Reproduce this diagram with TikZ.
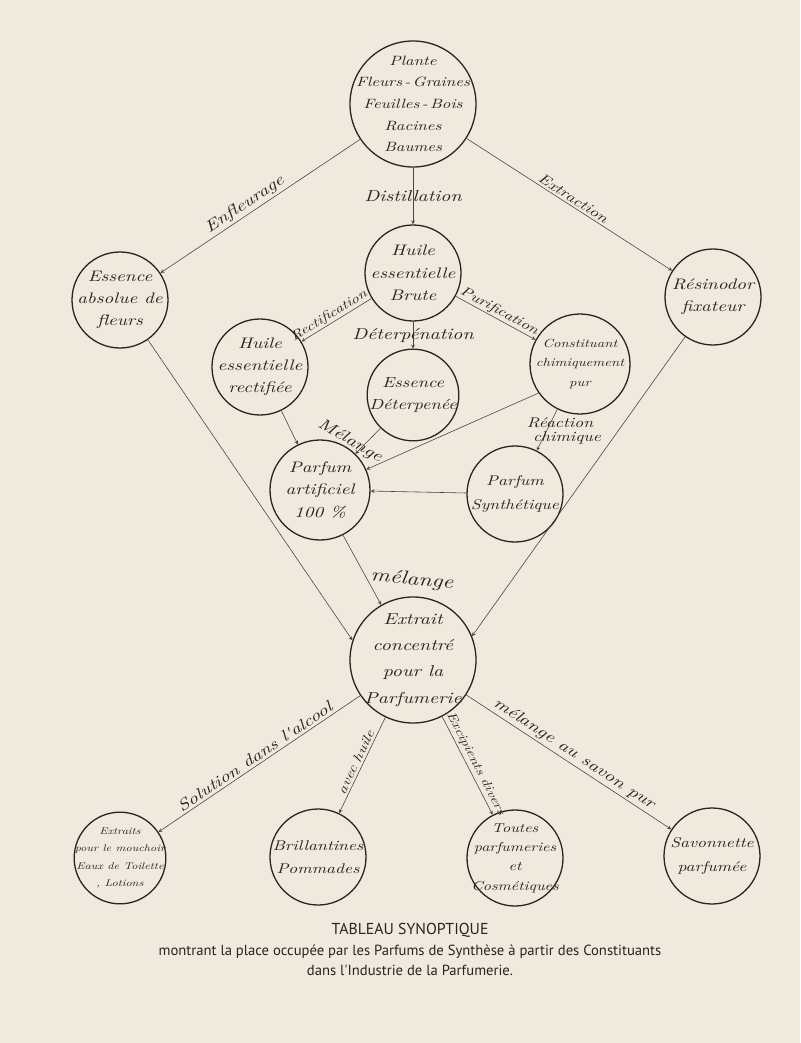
\documentclass[tikz,border=0pt]{standalone}
\usepackage{fontspec}
\newfontfamily\legende{PT Sans}
\newfontfamily\manuscrit{lmroman10-italic}[Extension=.otf, FakeStretch=1.25]
\usetikzlibrary{arrows,positioning}
\definecolor{papier}{RGB}{239,234,221}
\definecolor{encre}{RGB}{40,36,32}

\tikzset{
	etat/.style={circle, draw=encre, line width=1.1pt, inner sep=0pt},
	grand/.style={etat, minimum size=3.78cm},
	moyen/.style={etat, minimum size=2.88cm},
	petit/.style={etat, minimum size=2.75cm},
	texte/.style={align=center, text=encre, font=\manuscrit\fontsize{13}{19}\selectfont},
	fleche/.style={->, >=stealth, draw=encre!85, line width=0.5pt},
	etiq/.style={text=encre, font=\manuscrit\fontsize{13.5}{16}\selectfont, inner sep=2pt},
	menu/.style={font=\manuscrit\fontsize{11}{13}\selectfont}
}

\begin{document}
\begin{tikzpicture}[x=0.03cm, y=-0.03cm]
							\fill[papier] (0,0) rectangle (800,1043);

							% les etats
							\node[grand] (plante) at (413,104) {};
							\node[texte, font=\manuscrit\fontsize{11.5}{18.5}\selectfont] at (plante) {Plante\\Fleurs\,-\,Graines\\Feuilles\,-\,Bois\\Racines\\Baumes};
							\node[moyen] (absolue) at (120,300) {};
							\node[texte] at (absolue) {Essence\\absolue de\\fleurs};
							\node[moyen] (brute) at (413,273) {};
							\node[texte] at (brute) {Huile\\essentielle\\Brute};
							\node[moyen] (resinodor) at (713,297) {};
							\node[texte] at (resinodor) {Résinodor\\fixateur};
							\node[moyen] (rectifiee) at (260,367) {};
							\node[texte] at (rectifiee) {Huile\\essentielle\\rectifiée};
							\node[petit] (deterpenee) at (413,395) {};
							\node[texte, font=\manuscrit\fontsize{12.5}{19}\selectfont] at (deterpenee) {Essence\\Déterpenée};
							\node[etat, minimum size=3cm] (constituant) at (580,364) {};
							\node[texte, font=\manuscrit\fontsize{10}{17}\selectfont] at (constituant) {Constituant\\chimiquement\\pur};
							\node[etat, minimum size=3cm] (artificiel) at (320,490) {};
							\node[texte] at (artificiel) {Parfum\\artificiel\\100 \%};
							\node[moyen] (synthetique) at (515,494) {};
							\node[texte, font=\manuscrit\fontsize{12}{20}\selectfont] at (synthetique) {Parfum\\Synthétique};
							\node[grand] (extrait) at (413,660) {};
							\node[texte, font=\manuscrit\fontsize{13.5}{22.5}\selectfont] at (extrait) {Extrait\\concentré\\pour la\\Parfumerie};

							\node[petit] (mouchoir) at (120,858) {};
							\node[texte, font=\manuscrit\fontsize{8.3}{15}\selectfont] at (mouchoir) {Extraits\\pour le mouchoir\\Eaux de Toilette\\, Lotions};
							\node[moyen] (brillantines) at (318,857) {};
							\node[texte, font=\manuscrit\fontsize{12}{20}\selectfont] at (brillantines) {Brillantines\\Pommades};
							\node[moyen] (toutes) at (515,858) {};
							\node[texte, font=\manuscrit\fontsize{11}{16.5}\selectfont] at (toutes) {Toutes\\parfumeries\\et\\Cosmétiques};
							\node[moyen] (savonnette) at (712,856) {};
							\node[texte, font=\manuscrit\fontsize{12}{20}\selectfont] at (savonnette) {Savonnette\\parfumée};

							% les passages
							\draw[fleche] (plante) -- (absolue) node[etiq, pos=0.55, sloped, above] {Enfleurage};
							\draw[fleche] (plante) -- (brute) node[etiq, midway] {Distillation};
							\draw[fleche] (plante) -- (resinodor) node[etiq, midway, sloped, above, font=\manuscrit\fontsize{12}{14}\selectfont] {Extraction};
							\draw[fleche] (brute) -- (rectifiee) node[etiq, pos=0.55, sloped, above, inner sep=1pt, menu] {Rectification};
							\draw[fleche] (brute) -- (deterpenee) node[etiq, midway] {Déterpénation};
							\draw[fleche] (brute) -- (constituant) node[etiq, midway, sloped, above, inner sep=1pt, font=\manuscrit\fontsize{11.5}{13}\selectfont] {Purification};
							\draw[fleche] (rectifiee) -- (artificiel);
							\draw[fleche] (deterpenee) -- (artificiel);
							\draw[fleche] (constituant.215) -- (artificiel);
							\draw[fleche] (constituant) -- (synthetique);
							\draw[fleche] (synthetique) -- (artificiel);
							\node[etiq, rotate=-30] (melange) at (350,441) {Mélange};
							\node[etiq, align=center, font=\manuscrit\fontsize{12}{12}\selectfont] (reaction) at (560,431) {Réaction\\\hspace*{1em}chimique};
							\draw[fleche] (artificiel.-63) -- (extrait.120);
							\node[etiq, rotate=-5, font=\manuscrit\fontsize{16}{18}\selectfont] (melange2) at (412,580) {mélange};
							\draw[fleche] (absolue.-55) -- (extrait.162);
							\draw[fleche] (resinodor.235) -- (extrait.22);

							\draw[fleche] (extrait) -- (mouchoir) node[etiq, midway, sloped, above] {Solution dans l'alcool};
							\draw[fleche] (extrait) -- (brillantines) node[etiq, midway, sloped, above, menu] {avec huile};
							\draw[fleche] (extrait) -- (toutes) node[etiq, pos=0.52, sloped, above, font=\manuscrit\fontsize{10.5}{12}\selectfont] {Excipients divers};
							\draw[fleche] (extrait) -- (savonnette) node[etiq, midway, sloped, above] {mélange au savon pur};

							% la legende
							\node[text=encre, font=\legende\fontsize{13.5}{16}\selectfont] (titre) at (410,930) {TABLEAU SYNOPTIQUE};
							\node[text=encre, font=\legende\fontsize{12.5}{14}\selectfont, below=0pt of titre] (ligne1) {montrant la place occupée par les Parfums de Synthèse à partir des Constituants};
							\node[text=encre, font=\legende\fontsize{12.5}{14}\selectfont, below=-2pt of ligne1] (ligne2) {dans l'Industrie de la Parfumerie.};
\end{tikzpicture}
\end{document}
